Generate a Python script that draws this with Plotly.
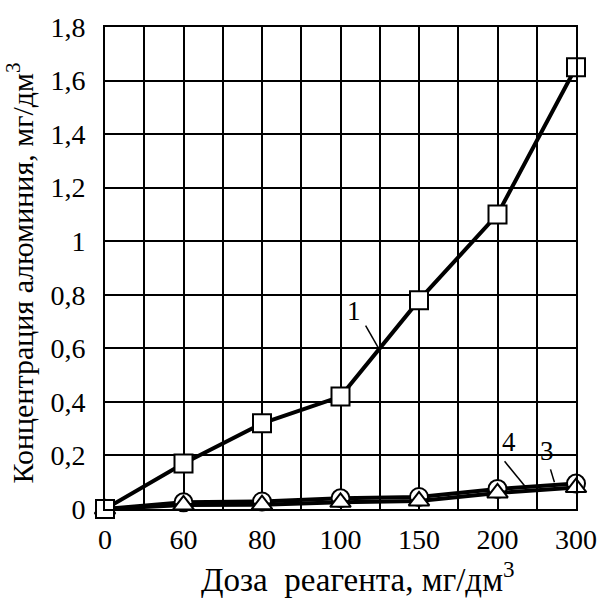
import plotly.graph_objects as go

# Reagent doses (categorical axis, evenly spaced)
doses = ["0", "60", "80", "100", "150", "200", "300"]
# Residual aluminium concentration, mg/dm3
curve1 = [0.0, 0.17, 0.32, 0.42, 0.78, 1.10, 1.65]
curve3 = [0.0, 0.025, 0.028, 0.04, 0.045, 0.075, 0.095]
curve4 = [0.0, 0.015, 0.016, 0.025, 0.03, 0.06, 0.08]
y_ticks = [0, 0.2, 0.4, 0.6, 0.8, 1.0, 1.2, 1.4, 1.6, 1.8]
y_tick_text = ["0", "0,2", "0,4", "0,6", "0,8", "1", "1,2", "1,4", "1,6", "1,8"]
x_title = "Доза  реагента, мг/дм<sup>3</sup>"
y_title = "Концентрация алюминия, мг/дм<sup>3</sup>"

idx = list(range(len(doses)))
FONT = "Liberation Serif"

fig = go.Figure()
fig.add_trace(go.Scatter(
    x=idx, y=curve3, mode="lines+markers", cliponaxis=False,
    line=dict(color="black", width=4),
    marker=dict(symbol="circle", size=18, color="white",
                line=dict(color="black", width=2)),
))
fig.add_trace(go.Scatter(
    x=idx, y=curve4, mode="lines+markers", cliponaxis=False,
    line=dict(color="black", width=4),
    marker=dict(symbol="triangle-up", size=18, color="white",
                line=dict(color="black", width=2)),
))
fig.add_trace(go.Scatter(
    x=idx, y=curve1, mode="lines+markers", cliponaxis=False,
    line=dict(color="black", width=4),
    marker=dict(symbol="square", size=18, color="white",
                line=dict(color="black", width=2)),
))

# Curve labels with leader lines
labels = [
    ("1", 3.17, 0.74, (3.32, 0.685), (3.475, 0.605)),
    ("4", 5.15, 0.25, (5.09, 0.178), (5.35, 0.085)),
    ("3", 5.63, 0.215, (5.675, 0.148), (5.725, 0.10)),
]
for txt, tx, ty, p0, p1 in labels:
    fig.add_annotation(x=tx, y=ty, text=txt, showarrow=False,
                       font=dict(family=FONT, size=27, color="black"))
    fig.add_shape(type="line", x0=p0[0], y0=p0[1], x1=p1[0], y1=p1[1],
                  line=dict(color="black", width=1.5))

# Axis titles
fig.add_annotation(xref="paper", yref="paper", x=0.538, y=-0.142,
                   xanchor="center", yanchor="middle", showarrow=False,
                   text=x_title, font=dict(family=FONT, size=33, color="black"))
fig.add_annotation(xref="paper", yref="paper", x=-0.18, y=0.489,
                   xanchor="center", yanchor="middle", showarrow=False,
                   textangle=-90, text=y_title,
                   font=dict(family=FONT, size=30, color="black"))

fig.update_layout(
    width=609, height=601,
    margin=dict(l=105, r=26, t=24, b=92),
    paper_bgcolor="white", plot_bgcolor="white",
    showlegend=False,
    font=dict(family=FONT, size=28, color="black"),
)
fig.update_xaxes(
    range=[0, 6], tickvals=idx, ticktext=doses,
    showgrid=True, gridcolor="black", gridwidth=2,
    minor=dict(tickvals=[i + 0.5 for i in range(6)], showgrid=True,
               gridcolor="black", gridwidth=2),
    showline=True, linecolor="black", linewidth=2, mirror=True,
    ticks="outside", ticklen=4, tickcolor="rgba(0,0,0,0)",
    zeroline=False,
    tickfont=dict(family=FONT, size=28),
)
fig.update_yaxes(
    range=[0, 1.8], tickvals=y_ticks, ticktext=y_tick_text,
    showgrid=True, gridcolor="black", gridwidth=2,
    showline=True, linecolor="black", linewidth=2, mirror=True,
    ticks="outside", ticklen=12, tickcolor="rgba(0,0,0,0)",
    zeroline=False,
    tickfont=dict(family=FONT, size=28),
)

fig.write_html("out.html")
